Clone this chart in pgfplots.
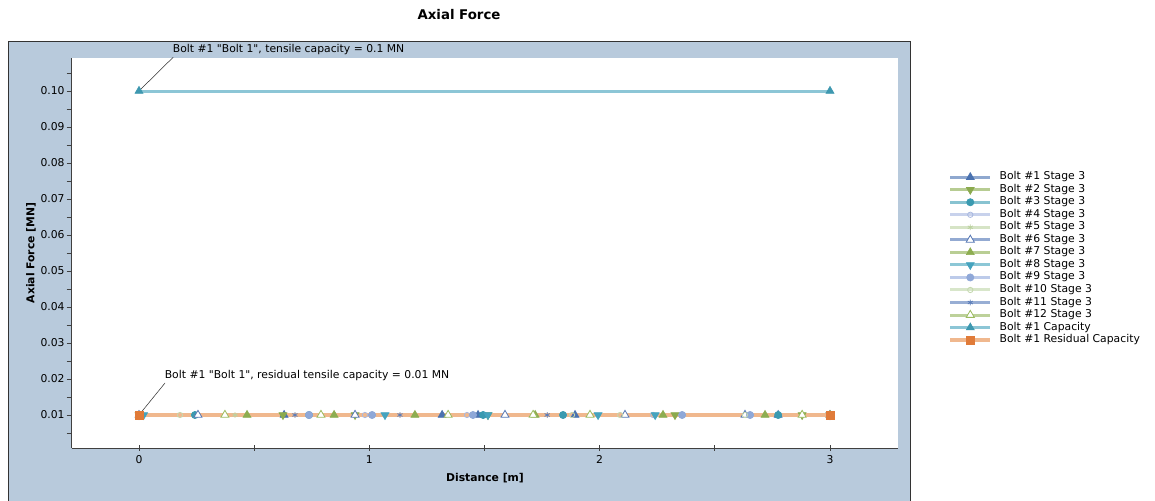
\documentclass[border=0pt]{standalone}
\usepackage{fontspec}
\setmainfont{DejaVu Sans}[Ligatures=TeXOff]
\usepackage{pgfplots}
\pgfplotsset{compat=1.18}
\definecolor{panel}{HTML}{B8CADC}
\definecolor{mA}{HTML}{4A72B0}\definecolor{lA}{HTML}{8FA8CF}
\definecolor{mB}{HTML}{8BAA4E}\definecolor{lB}{HTML}{B7CC92}
\definecolor{mC}{HTML}{3A9AB0}\definecolor{lC}{HTML}{88C3D1}
\definecolor{mD}{HTML}{A8B8DF}\definecolor{lD}{HTML}{C8D2EC}
\definecolor{mE}{HTML}{BCD2A0}\definecolor{lE}{HTML}{D6E4C6}
\definecolor{mF}{HTML}{5677B4}\definecolor{lF}{HTML}{93AAD2}
\definecolor{mG}{HTML}{8DAD50}\definecolor{lG}{HTML}{B9CE94}
\definecolor{mH}{HTML}{45A3BE}\definecolor{lH}{HTML}{8CC7D6}
\definecolor{mI}{HTML}{8FA8D8}\definecolor{lI}{HTML}{BDCBEA}
\definecolor{mJ}{HTML}{C4D8AE}\definecolor{lJ}{HTML}{D8E6CA}
\definecolor{mK}{HTML}{5D7FBA}\definecolor{lK}{HTML}{98AED4}
\definecolor{mL}{HTML}{9BBB5E}\definecolor{lL}{HTML}{BDD19A}
\definecolor{mM}{HTML}{3E98B0}\definecolor{lM}{HTML}{8CC6D6}
\definecolor{mN}{HTML}{E07B39}\definecolor{lN}{HTML}{F0B88E}
\newcommand\tf{\fontsize{8.1}{9.5}\selectfont}
\begin{document}
\begin{tikzpicture}
\path[use as bounding box, fill=white] (0,0) rectangle (866.25pt,375pt);
\fill[panel] (6pt,-2pt) rectangle (682.5pt,343.5pt);
\draw[line width=0.75pt, black!80] (6pt,-2pt) -- (6pt,343.5pt) -- (682.5pt,343.5pt) -- (682.5pt,-2pt);
\node[font=\bfseries\fontsize{10}{12}\selectfont] at (344.25pt,363.75pt) {Axial Force};
\begin{axis}[at={(54pt,39pt)}, anchor=south west, scale only axis,
  width=619.5pt, height=292.5pt,
  xmin=-0.2909, xmax=3.2953, ymin=0.000833, ymax=0.109167,
  axis x line=bottom, axis y line=left,
  axis line style={-, black!75, line width=0.75pt},
  axis background/.style={fill=white},
  clip=false,
  xtick={0,1,2,3}, minor xtick={0.5,1.5,2.5},
  ytick={0.01,0.02,0.03,0.04,0.05,0.06,0.07,0.08,0.09,0.10},
  minor ytick={0.005,0.015,0.025,0.035,0.045,0.055,0.065,0.075,0.085,0.095,0.105},
  tick style={black!75, line width=0.6pt},
  major tick length=4pt, minor tick length=4pt,
  xtick align=center, ytick align=outside,
  ticklabel style={font=\tf},
  /pgf/number format/assume math mode=true,
  yticklabel style={xshift=2pt, /pgf/number format/fixed, /pgf/number format/fixed zerofill, /pgf/number format/precision=2},
  scaled y ticks=false,
  xlabel={Distance [m]}, ylabel={Axial Force [MN]},
  label style={font=\bfseries\tf},
  xlabel style={at={(axis description cs:0.5,-0.077)}, anchor=center},
  ylabel style={at={(axis description cs:-0.0496,0.5)}, anchor=center, rotate=0},
  legend style={at={(axis description cs:1.0557,0.718)}, anchor=north west, draw=none, fill=none,
    font=\tf, row sep=0pt, column sep=0pt,
    nodes={inner xsep=5.5pt, inner ysep=0pt, text height=6.6pt, text depth=2.8pt}},
  legend cell align=left,
  legend image code/.code={\draw[mark repeat=2,mark phase=2,#1] plot coordinates {(0pt,0pt) (15pt,0pt) (30pt,0pt)};},
  every axis plot/.append style={line width=2.25pt},
]
\addplot[color=lA, mark=triangle*, mark size=3.4pt, mark options={draw=mA, fill=mA, line width=0.5pt}]
 coordinates {(0,0.01)(0.63,0.01)(1.316,0.01)(1.472,0.01)(1.893,0.01)(2.775,0.01)(3,0.01)};
\addlegendentry{Bolt \#1 Stage 3}
\addplot[color=lB, mark=triangle*, mark size=3.4pt, mark options={draw=mB, fill=mB, rotate=180, line width=0.5pt}]
 coordinates {(0,0.01)(0.625,0.01)(0.938,0.01)(1.515,0.01)(2.327,0.01)(2.879,0.01)(3,0.01)};
\addlegendentry{Bolt \#2 Stage 3}
\addplot[color=lC, mark=*, mark size=2.7pt, mark options={draw=mC, fill=mC, line width=0.5pt}]
 coordinates {(0,0.01)(0.243,0.01)(0.738,0.01)(1.494,0.01)(1.841,0.01)(2.775,0.01)(3,0.01)};
\addlegendentry{Bolt \#3 Stage 3}
\addplot[color=lD, mark=o, mark size=2pt, mark options={draw=mD, fill=white, line width=0.6pt}]
 coordinates {(0.981,0.01)(1.424,0.01)(2.232,0.01)};
\addlegendentry{Bolt \#4 Stage 3}
\addplot[color=lE, mark=asterisk, mark size=2.2pt, mark options={draw=mE, line width=0.6pt}]
 coordinates {(0.417,0.01)};
\addlegendentry{Bolt \#5 Stage 3}
\addplot[color=lF, mark=triangle*, mark size=3.5pt, mark options={draw=mF, fill=white, line width=0.6pt}]
 coordinates {(0.256,0.01)(0.938,0.01)(1.589,0.01)(2.110,0.01)(2.631,0.01)};
\addlegendentry{Bolt \#6 Stage 3}
\addplot[color=lG, mark=triangle*, mark size=3.4pt, mark options={draw=mG, fill=mG, line width=0.5pt}]
 coordinates {(0.469,0.01)(0.847,0.01)(1.198,0.01)(1.72,0.01)(2.275,0.01)(2.718,0.01)(3,0.01)};
\addlegendentry{Bolt \#7 Stage 3}
\addplot[color=lH, mark=triangle*, mark size=3.4pt, mark options={draw=mH, fill=mH, rotate=180, line width=0.5pt}]
 coordinates {(0.02,0.01)(1.068,0.01)(1.515,0.01)(1.993,0.01)(2.241,0.01)(3,0.01)};
\addlegendentry{Bolt \#8 Stage 3}
\addplot[color=lI, mark=*, mark size=2.7pt, mark options={draw=mI, fill=mI, line width=0.5pt}]
 coordinates {(0.738,0.01)(1.012,0.01)(1.450,0.01)(2.358,0.01)(2.653,0.01)};
\addlegendentry{Bolt \#9 Stage 3}
\addplot[color=lJ, mark=o, mark size=2pt, mark options={draw=mJ, fill=white, line width=0.6pt}]
 coordinates {(0.178,0.01)(1.88,0.01)(2.089,0.01)(2.631,0.01)};
\addlegendentry{Bolt \#10 Stage 3}
\addplot[color=lK, mark=asterisk, mark size=2.2pt, mark options={draw=mK, line width=0.6pt}]
 coordinates {(0.677,0.01)(1.133,0.01)(1.772,0.01)};
\addlegendentry{Bolt \#11 Stage 3}
\addplot[color=lL, mark=triangle*, mark size=3.5pt, mark options={draw=mL, fill=white, line width=0.6pt}]
 coordinates {(0.373,0.01)(0.790,0.01)(1.342,0.01)(1.711,0.01)(1.958,0.01)(2.879,0.01)};
\addlegendentry{Bolt \#12 Stage 3}
\addplot[color=lM, mark=triangle*, mark size=3.4pt, mark options={draw=mM, fill=mM, line width=0.5pt}]
 coordinates {(0,0.1)(3,0.1)};
\addlegendentry{Bolt \#1 Capacity}
\addplot[color=lN, line width=3pt, mark=square*, mark size=2.9pt, mark options={draw=mN, fill=mN, line width=0.5pt}]
 coordinates {(0,0.01)(3,0.01)};
\addlegendentry{Bolt \#1 Residual Capacity}
\draw[black!80, line width=0.4pt] (axis cs:0,0.1) -- (axis cs:0.148,0.10935);
\node[anchor=west, inner sep=0pt, font=\tf] at (axis cs:0.146,0.1114) {Bolt \#1 "Bolt 1", tensile capacity = 0.1 MN};
\draw[black!80, line width=0.4pt] (axis cs:0,0.01) -- (axis cs:0.113,0.0189);
\node[anchor=west, inner sep=0pt, font=\tf] at (axis cs:0.111,0.0211) {Bolt \#1 "Bolt 1", residual tensile capacity = 0.01 MN};
\end{axis}
\end{tikzpicture}
\end{document}
